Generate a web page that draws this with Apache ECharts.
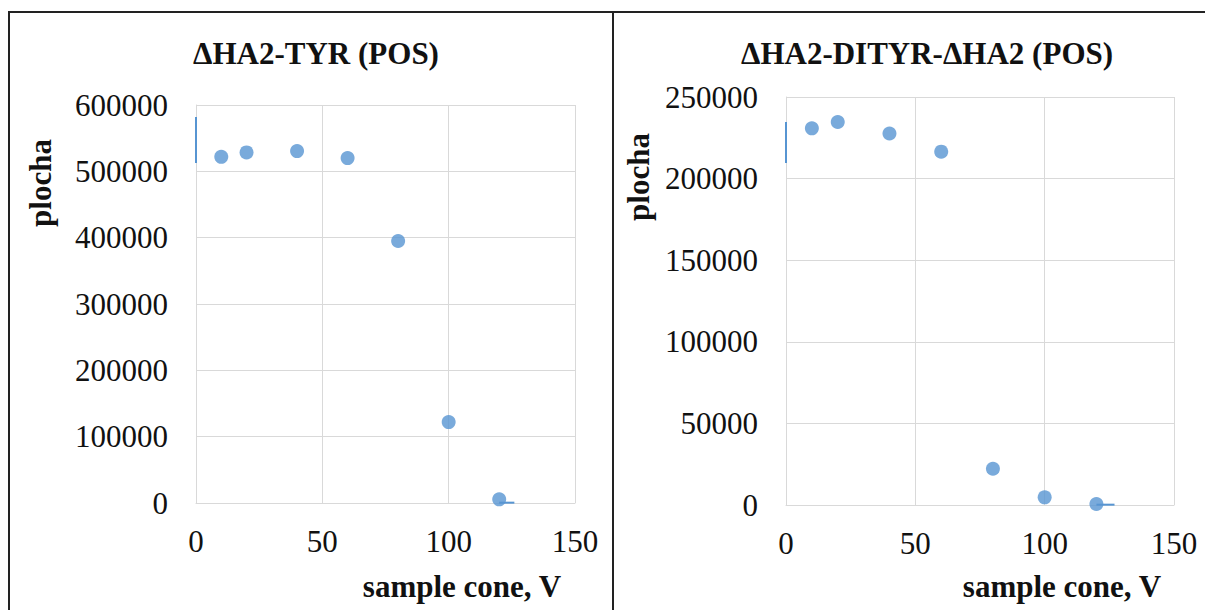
<!DOCTYPE html>
<html>
<head>
<meta charset="utf-8">
<title>sample cone</title>
<script src="https://cdn.jsdelivr.net/npm/echarts@6/dist/echarts.min.js"></script>
<style>
  html, body { margin: 0; padding: 0; background: #fff; }
  #chart { width: 1205px; height: 610px; }
</style>
</head>
<body>
<div id="chart"></div>
<script>
// sample cone napětí (V)
const cone = [10, 20, 40, 60, 80, 100, 120]
// plocha píku – ΔHA2-TYR
const areaTyr = [521800, 528500, 530500, 520000, 395000, 122000, 5500]
// plocha píku – ΔHA2-DITYR-ΔHA2
const areaDityr = [230800, 234700, 227600, 216500, 22200, 4700, 600]

// zbytky čar (useknuté na okraji grafu)
const edgeTyrLeft = [[0, 582000], [0, 512700]]
const edgeTyrTail = [[120, 500], [126, 500]]
const edgeDityrLeft = [[0, 234700], [0, 209600]]
const edgeDityrTail = [[120, 200], [127, 200]]

const titles = ['ΔHA2-TYR (POS)', 'ΔHA2-DITYR-ΔHA2 (POS)']
const xName = 'sample cone, V'
const yName = 'plocha'

const serif = '"Liberation Serif", "Times New Roman", serif'
const blue = '#5795d2'
const gridColor = '#d9d9d9'

const toPoints = (xs, ys) => xs.map((x, i) => [x, ys[i]])

const makeX = (gridIndex) => ({
  type: 'value',
  gridIndex,
  min: 0,
  max: 150,
  interval: 50,
  axisLine: { show: true, lineStyle: { color: gridColor, width: 1 } },
  axisTick: { show: false },
  splitLine: { show: true, lineStyle: { color: gridColor, width: 1 } },
  axisLabel: { margin: 23, color: '#111', fontFamily: serif, fontSize: 31, formatter: (v) => String(v) }
})

const makeY = (gridIndex, max, interval) => ({
  type: 'value',
  gridIndex,
  min: 0,
  max,
  interval,
  axisLine: { show: true, lineStyle: { color: gridColor, width: 1 } },
  axisTick: { show: false },
  splitLine: { show: true, lineStyle: { color: gridColor, width: 1 } },
  axisLabel: { margin: 28, color: '#111', fontFamily: serif, fontSize: 31, formatter: (v) => String(v) }
})

const edgeLine = (data, idx) => ({
  type: 'line',
  xAxisIndex: idx,
  yAxisIndex: idx,
  data,
  symbol: 'none',
  silent: true,
  lineStyle: { color: blue, width: 2 },
  z: 1
})

const dots = (data, idx) => ({
  type: 'scatter',
  xAxisIndex: idx,
  yAxisIndex: idx,
  data,
  symbolSize: 14,
  itemStyle: { color: blue },
  z: 3
})

const textEl = (text, x, y, rotation) => ({
  type: 'text',
  x,
  y,
  rotation: rotation || 0,
  style: {
    text,
    fill: '#111',
    font: 'bold 31px ' + serif,
    textAlign: 'center',
    textVerticalAlign: 'middle'
  }
})

const chart = echarts.init(document.getElementById('chart'), null, { renderer: 'svg' })

chart.setOption({
  animation: false,
  backgroundColor: '#fff',
  title: [
    { text: titles[0], left: 316, top: 38, textAlign: 'center', padding: 0,
      textStyle: { fontFamily: serif, fontSize: 31, fontWeight: 'bold', color: '#111' } },
    { text: titles[1], left: 927, top: 38, textAlign: 'center', padding: 0,
      textStyle: { fontFamily: serif, fontSize: 31, fontWeight: 'bold', color: '#111' } }
  ],
  grid: [
    { left: 196, top: 105, width: 379, height: 398 },
    { left: 786, top: 97, width: 388, height: 408 }
  ],
  xAxis: [makeX(0), makeX(1)],
  yAxis: [makeY(0, 600000, 100000), makeY(1, 250000, 50000)],
  series: [
    edgeLine(edgeTyrLeft, 0),
    edgeLine(edgeTyrTail, 0),
    dots(toPoints(cone, areaTyr), 0),
    edgeLine(edgeDityrLeft, 1),
    edgeLine(edgeDityrTail, 1),
    dots(toPoints(cone, areaDityr), 1)
  ],
  graphic: [
    // rámeček kolem obou grafů
    { type: 'line', shape: { x1: 8, y1: 12, x2: 1205, y2: 12 }, style: { stroke: '#222', lineWidth: 2 } },
    { type: 'line', shape: { x1: 9, y1: 12, x2: 9, y2: 610 }, style: { stroke: '#222', lineWidth: 2 } },
    { type: 'line', shape: { x1: 613, y1: 12, x2: 613, y2: 610 }, style: { stroke: '#222', lineWidth: 2 } },
    textEl(yName, 40, 183, Math.PI / 2),
    textEl(yName, 638, 177, Math.PI / 2),
    textEl(xName, 462, 586),
    textEl(xName, 1062, 586)
  ]
})
</script>
</body>
</html>
